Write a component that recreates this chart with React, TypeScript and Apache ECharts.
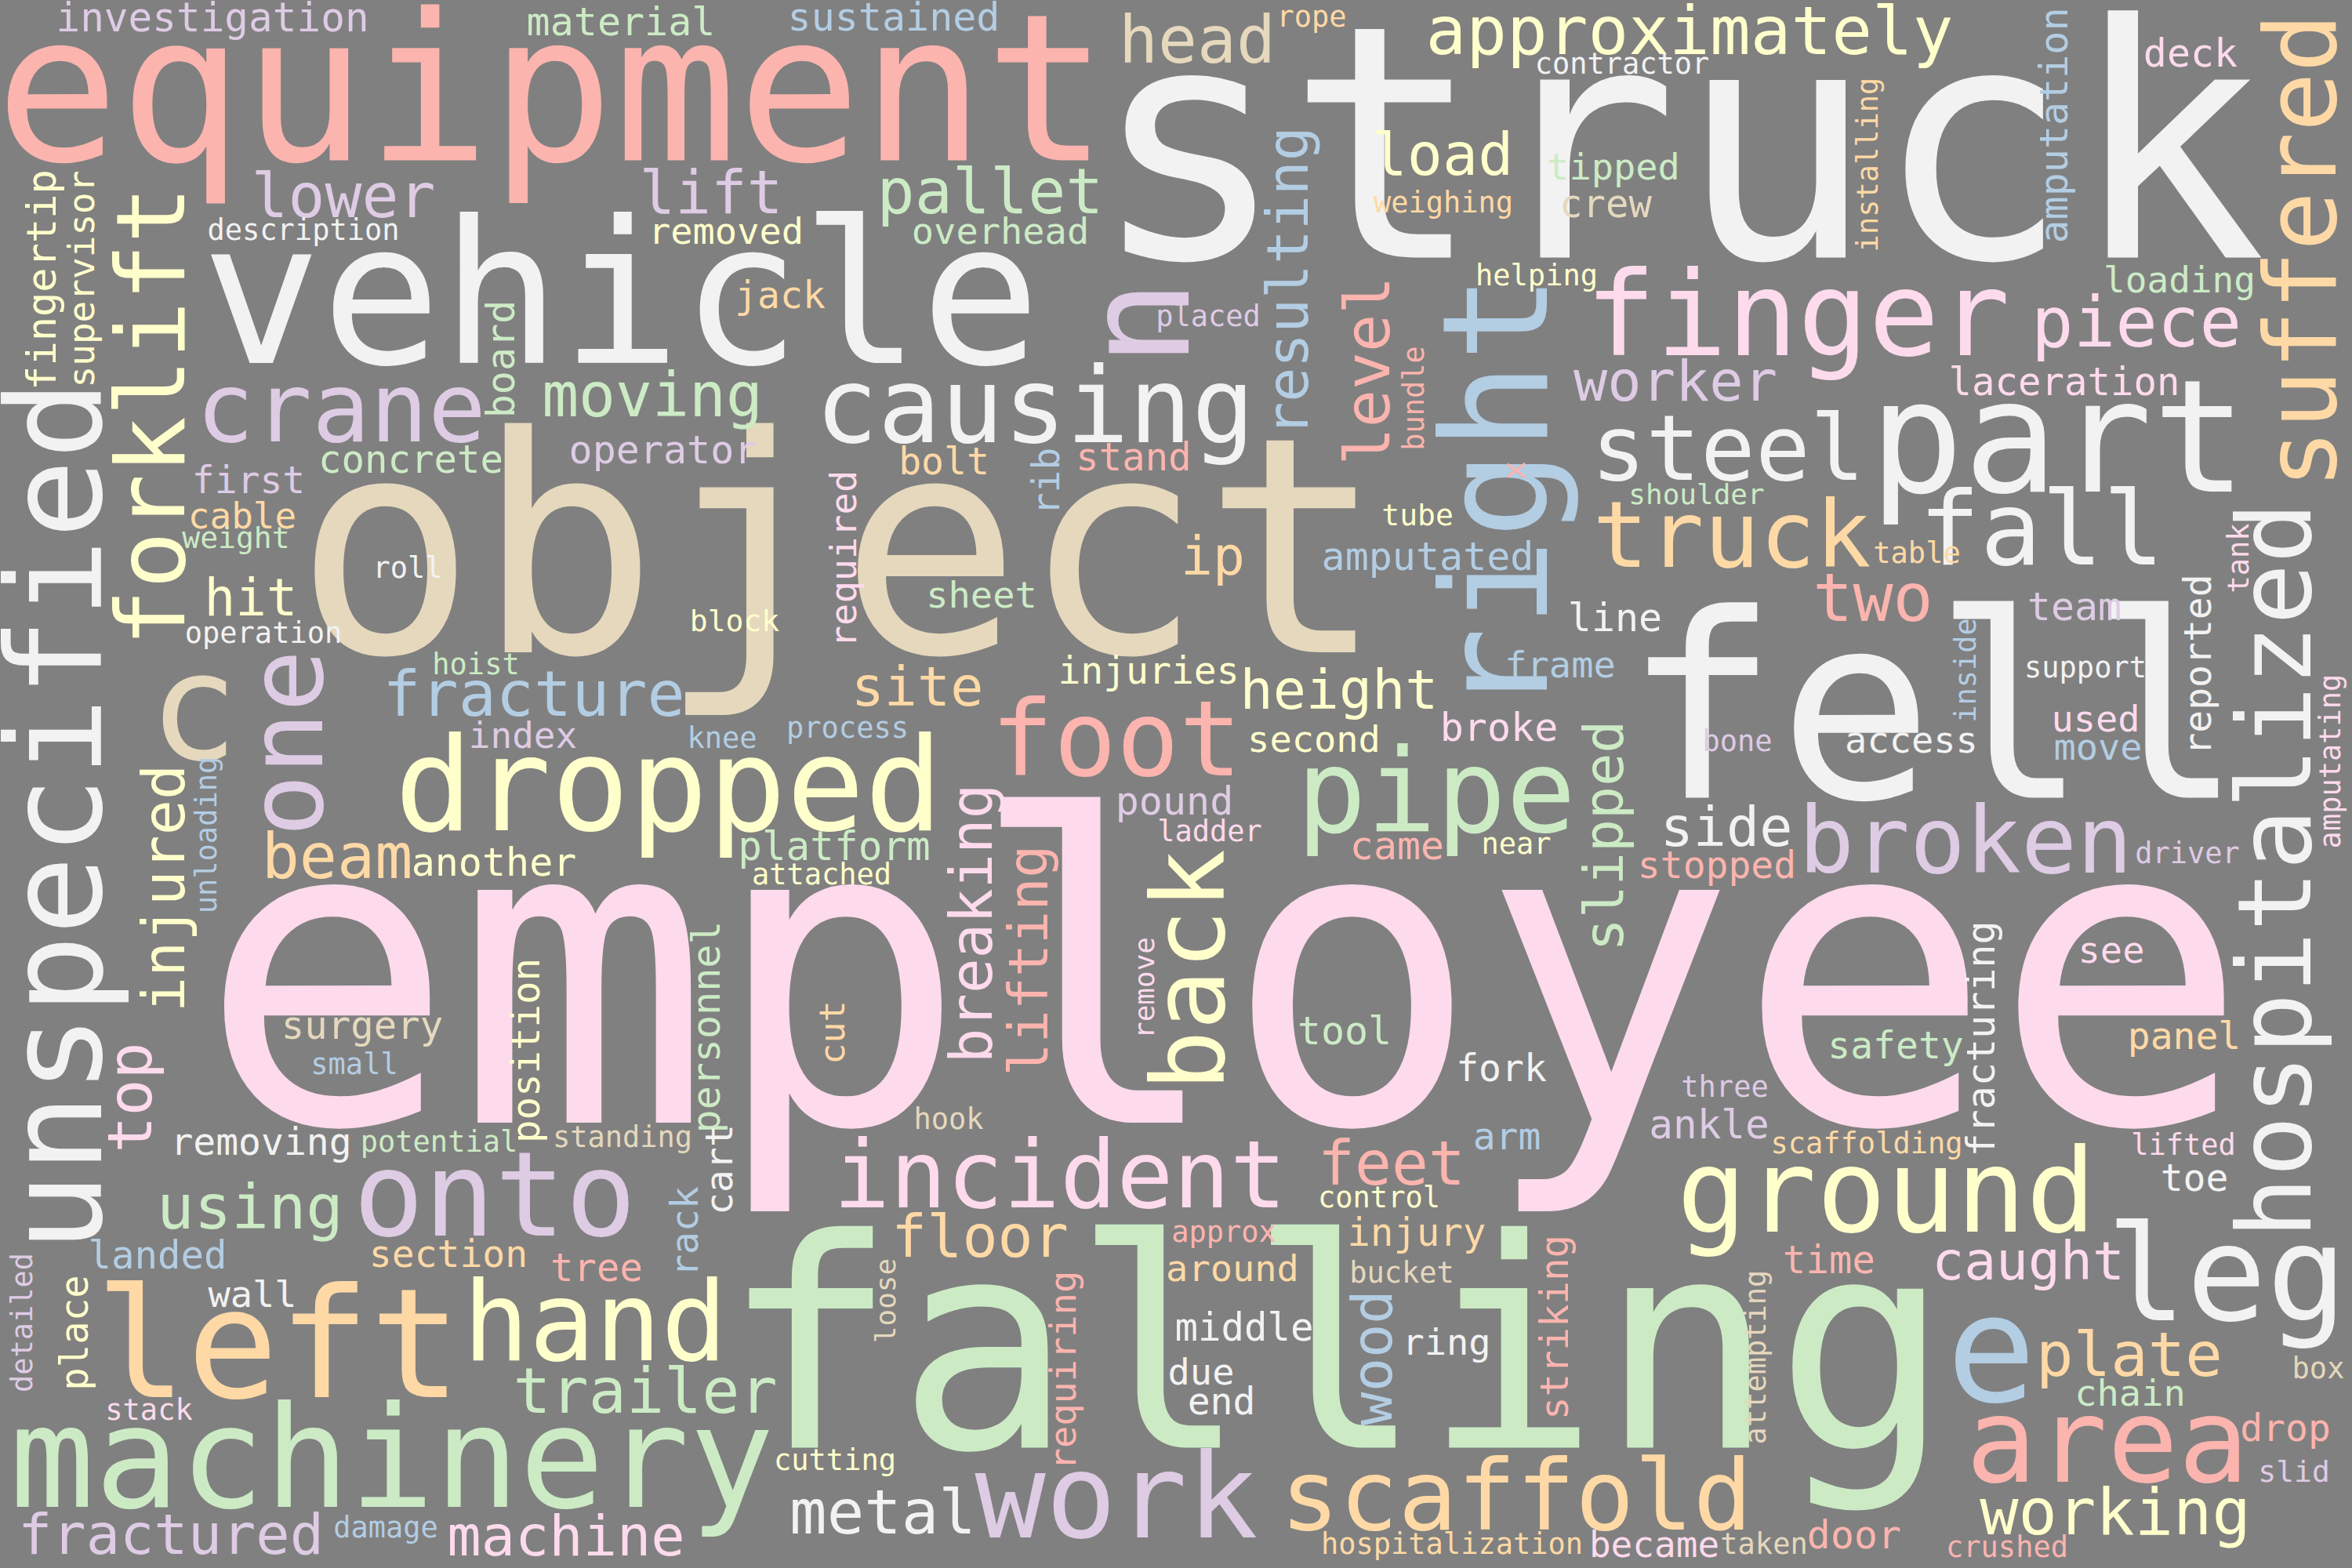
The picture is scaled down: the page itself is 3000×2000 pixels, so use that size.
import React, { useEffect, useRef } from 'react';
import * as echarts from 'echarts';

// Pastel1 colours used by the cloud
const palette: Record<string, string> = {
  A: '#fbb4ae',
  B: '#b3cde3',
  C: '#ccebc5',
  D: '#decbe4',
  E: '#fed9a6',
  F: '#ffffcc',
  G: '#e5d8bd',
  H: '#fddaec',
  I: '#f2f2f2',
};

// [word, x, y, weight (font px), colour key]
const horizontalWords: [string, number, number, number, string][] = [
  ['investigation', 271, 22, 51, 'D'],
  ['material', 792, 28, 50, 'C'],
  ['sustained', 1140, 22, 50, 'B'],
  ['rope', 1673, 21, 37, 'E'],
  ['head', 1527, 51, 83, 'G'],
  ['approximately', 2155, 39, 86, 'F'],
  ['contractor', 2069, 81, 37, 'I'],
  ['deck', 2794, 68, 50, 'H'],
  ['equipment', 704, 114, 262, 'A'],
  ['struck', 2141, 185, 415, 'I'],
  ['tipped', 2058, 212, 47, 'C'],
  ['crew', 2048, 260, 49, 'G'],
  ['lower', 438, 250, 78, 'D'],
  ['lift', 907, 245, 76, 'D'],
  ['pallet', 1263, 244, 80, 'C'],
  ['load', 1840, 197, 75, 'F'],
  ['removed', 926, 294, 47, 'F'],
  ['overhead', 1276, 294, 47, 'C'],
  ['weighing', 1841, 258, 37, 'E'],
  ['description', 387, 293, 37, 'I'],
  ['vehicle', 792, 375, 254, 'I'],
  ['jack', 995, 376, 48, 'E'],
  ['helping', 1960, 351, 37, 'F'],
  ['loading', 2780, 357, 46, 'C'],
  ['placed', 1541, 403, 37, 'D'],
  ['finger', 2293, 401, 150, 'H'],
  ['piece', 2725, 411, 89, 'H'],
  ['crane', 435, 520, 123, 'D'],
  ['moving', 832, 504, 78, 'C'],
  ['causing', 1320, 518, 133, 'I'],
  ['worker', 2137, 486, 72, 'D'],
  ['laceration', 2633, 487, 49, 'H'],
  ['steel', 2204, 571, 116, 'I'],
  ['part', 2625, 557, 200, 'I'],
  ['concrete', 524, 586, 49, 'C'],
  ['operator', 846, 574, 50, 'D'],
  ['bolt', 1204, 588, 48, 'E'],
  ['stand', 1446, 583, 49, 'A'],
  ['shoulder', 2164, 630, 36, 'C'],
  ['first', 317, 612, 48, 'D'],
  ['cable', 309, 658, 46, 'E'],
  ['weight', 301, 686, 38, 'C'],
  ['object', 1071, 699, 385, 'G'],
  ['tube', 1808, 657, 38, 'F'],
  ['truck', 2209, 682, 118, 'E'],
  ['fall', 2604, 675, 130, 'I'],
  ['table', 2445, 705, 37, 'E'],
  ['roll', 520, 724, 37, 'I'],
  ['ip', 1547, 709, 68, 'E'],
  ['amputated', 1821, 710, 50, 'B'],
  ['hit', 320, 762, 66, 'F'],
  ['line', 2060, 788, 50, 'I'],
  ['two', 2389, 762, 85, 'A'],
  ['block', 937, 792, 38, 'F'],
  ['sheet', 1252, 758, 47, 'C'],
  ['operation', 336, 807, 37, 'I'],
  ['team', 2646, 774, 50, 'D'],
  ['hoist', 607, 847, 37, 'C'],
  ['injuries', 1465, 855, 48, 'F'],
  ['frame', 1990, 847, 47, 'B'],
  ['support', 2660, 851, 37, 'I'],
  ['fracture', 681, 885, 80, 'B'],
  ['site', 1170, 876, 70, 'E'],
  ['height', 1708, 880, 70, 'F'],
  ['c', 247, 902, 190, 'G'],
  ['index', 667, 938, 46, 'D'],
  ['knee', 921, 941, 37, 'B'],
  ['process', 1081, 928, 37, 'B'],
  ['second', 1676, 942, 47, 'F'],
  ['broke', 1912, 928, 50, 'H'],
  ['bone', 2216, 945, 37, 'D'],
  ['access', 2438, 943, 47, 'I'],
  ['used', 2673, 916, 47, 'H'],
  ['move', 2676, 952, 47, 'B'],
  ['foot', 1424, 943, 133, 'A'],
  ['dropped', 853, 1001, 166, 'F'],
  ['pipe', 1832, 1010, 148, 'C'],
  ['fell', 2466, 904, 328, 'I'],
  ['pound', 1498, 1022, 50, 'D'],
  ['side', 2202, 1055, 70, 'I'],
  ['broken', 2507, 1072, 118, 'D'],
  ['ladder', 1543, 1060, 37, 'H'],
  ['beam', 430, 1092, 80, 'E'],
  ['another', 630, 1100, 50, 'F'],
  ['platform', 1064, 1079, 51, 'C'],
  ['attached', 1048, 1115, 37, 'F'],
  ['came', 1782, 1079, 50, 'A'],
  ['near', 1934, 1076, 37, 'F'],
  ['stopped', 2190, 1103, 48, 'A'],
  ['driver', 2790, 1088, 37, 'D'],
  ['see', 2693, 1211, 47, 'H'],
  ['tool', 1715, 1315, 50, 'C'],
  ['surgery', 462, 1308, 49, 'G'],
  ['safety', 2418, 1333, 48, 'C'],
  ['panel', 2786, 1321, 48, 'E'],
  ['small', 452, 1357, 37, 'B'],
  ['fork', 1915, 1362, 48, 'I'],
  ['three', 2200, 1386, 37, 'D'],
  ['hook', 1210, 1427, 37, 'G'],
  ['ankle', 2180, 1434, 51, 'D'],
  ['employee', 1561, 1244, 543, 'H'],
  ['scaffolding', 2381, 1458, 37, 'E'],
  ['lifted', 2785, 1460, 37, 'H'],
  ['toe', 2799, 1502, 48, 'I'],
  ['removing', 333, 1456, 48, 'I'],
  ['potential', 560, 1456, 37, 'C'],
  ['standing', 794, 1450, 37, 'G'],
  ['arm', 1922, 1449, 48, 'B'],
  ['using', 319, 1540, 79, 'C'],
  ['onto', 631, 1524, 150, 'D'],
  ['incident', 1352, 1498, 120, 'H'],
  ['feet', 1775, 1484, 78, 'A'],
  ['ground', 2406, 1520, 148, 'F'],
  ['landed', 201, 1601, 49, 'B'],
  ['control', 1759, 1527, 37, 'F'],
  ['section', 572, 1599, 48, 'E'],
  ['approx', 1561, 1571, 37, 'A'],
  ['injury', 1807, 1572, 49, 'E'],
  ['tree', 761, 1617, 49, 'A'],
  ['floor', 1250, 1577, 75, 'E'],
  ['leg', 2840, 1625, 170, 'I'],
  ['caught', 2587, 1608, 68, 'H'],
  ['time', 2333, 1607, 49, 'A'],
  ['around', 1572, 1617, 47, 'E'],
  ['bucket', 1788, 1623, 37, 'G'],
  ['wall', 322, 1650, 47, 'I'],
  ['left', 355, 1715, 194, 'E'],
  ['hand', 759, 1686, 140, 'F'],
  ['middle', 1587, 1693, 49, 'I'],
  ['ring', 1845, 1711, 47, 'I'],
  ['e', 2540, 1721, 190, 'B'],
  ['plate', 2716, 1728, 79, 'E'],
  ['falling', 1704, 1718, 372, 'C'],
  ['chain', 2717, 1776, 47, 'C'],
  ['due', 1532, 1749, 47, 'I'],
  ['end', 1558, 1787, 48, 'I'],
  ['trailer', 823, 1774, 80, 'C'],
  ['stack', 190, 1798, 37, 'H'],
  ['box', 2957, 1745, 37, 'G'],
  ['area', 2688, 1838, 150, 'A'],
  ['drop', 2915, 1821, 48, 'A'],
  ['machinery', 500, 1859, 180, 'C'],
  ['cutting', 1065, 1862, 37, 'F'],
  ['slid', 2926, 1877, 38, 'D'],
  ['metal', 1126, 1929, 79, 'I'],
  ['work', 1424, 1909, 150, 'D'],
  ['scaffold', 1934, 1907, 125, 'E'],
  ['working', 2698, 1928, 82, 'F'],
  ['fractured', 218, 1957, 72, 'D'],
  ['damage', 492, 1948, 37, 'B'],
  ['machine', 722, 1959, 72, 'H'],
  ['hospitalization', 1852, 1969, 37, 'E'],
  ['became', 2110, 1970, 46, 'H'],
  ['taken', 2250, 1969, 37, 'G'],
  ['door', 2365, 1958, 50, 'A'],
  ['crushed', 2560, 1973, 37, 'A'],
];

// words set upright (reading bottom to top)
const verticalWords: [string, number, number, number, string][] = [
  ['amputation', 2620, 160, 50, 'B'],
  ['installing', 2382, 210, 37, 'E'],
  ['suffered', 2935, 320, 126, 'E'],
  ['fingertip', 53, 357, 52, 'F'],
  ['supervisor', 104, 356, 46, 'F'],
  ['forklift', 193, 531, 122, 'F'],
  ['unspecified', 71, 1041, 168, 'I'],
  ['board', 639, 458, 50, 'C'],
  ['n', 1452, 412, 185, 'D'],
  ['resulting', 1642, 359, 73, 'B'],
  ['level', 1744, 473, 80, 'A'],
  ['bundle', 1803, 508, 37, 'A'],
  ['right', 1908, 631, 187, 'B'],
  ['rib', 1334, 614, 48, 'B'],
  ['required', 1075, 713, 47, 'H'],
  ['x', 1931, 600, 40, 'A'],
  ['hospitalized', 2902, 1110, 130, 'I'],
  ['tank', 2855, 712, 37, 'H'],
  ['one', 365, 948, 132, 'D'],
  ['injured', 209, 1133, 75, 'F'],
  ['unloading', 263, 1065, 37, 'B'],
  ['position', 671, 1340, 49, 'F'],
  ['personnel', 901, 1310, 50, 'C'],
  ['top', 166, 1400, 78, 'H'],
  ['breaking', 1239, 1178, 74, 'H'],
  ['lifting', 1312, 1225, 70, 'A'],
  ['back', 1516, 1237, 128, 'F'],
  ['remove', 1459, 1260, 36, 'H'],
  ['cut', 1061, 1317, 45, 'E'],
  ['inside', 2507, 855, 37, 'B'],
  ['reported', 2803, 848, 48, 'I'],
  ['amputating', 2972, 971, 37, 'H'],
  ['slipped', 2046, 1066, 70, 'C'],
  ['fracturing', 2527, 1325, 50, 'I'],
  ['attempting', 2239, 1731, 37, 'G'],
  ['cart', 917, 1492, 48, 'I'],
  ['rack', 873, 1571, 48, 'B'],
  ['detailed', 28, 1687, 37, 'D'],
  ['place', 95, 1700, 49, 'F'],
  ['loose', 1129, 1659, 36, 'G'],
  ['requiring', 1355, 1748, 47, 'A'],
  ['wood', 1750, 1732, 72, 'B'],
  ['striking', 1983, 1693, 49, 'A'],
];

type Word = [string, number, number, number, string];

const toPoint = ([word, x, y, size, key]: Word, rotate: number) => ({
  name: word,
  value: [x, y],
  label: { fontSize: size, color: palette[key], rotate },
});

const WordCloud: React.FC = () => {
  const chartRef = useRef<HTMLDivElement>(null);

  useEffect(() => {
    const chart = echarts.init(chartRef.current!, undefined, { renderer: 'svg' });

    // big words first so the small ones sit on top
    const data = [
      ...horizontalWords.map((w) => toPoint(w, 0)),
      ...verticalWords.map((w) => toPoint(w, 90)),
    ].sort((a, b) => b.label.fontSize - a.label.fontSize);

    chart.setOption({
      animation: false,
      backgroundColor: '#808080',
      grid: { left: 0, right: 0, top: 0, bottom: 0 },
      xAxis: { type: 'value', min: 0, max: 3000, show: false },
      yAxis: { type: 'value', min: 0, max: 2000, inverse: true, show: false },
      series: [
        {
          type: 'scatter',
          silent: true,
          clip: false,
          symbolSize: 0,
          itemStyle: { color: 'transparent', opacity: 1 },
          label: {
            show: true,
            position: 'inside',
            formatter: '{b}',
            align: 'center',
            verticalAlign: 'middle',
            fontFamily: 'DejaVu Sans Mono',
            fontWeight: 'normal',
            opacity: 1,
          },
          data,
        },
      ],
    });

    return () => {
      chart.dispose();
    };
  }, []);

  return (
    <div
      ref={chartRef}
      style={{ position: 'absolute', left: 0, top: 0, width: '3000px', height: '2000px' }}
    />
  );
};

export default WordCloud;
